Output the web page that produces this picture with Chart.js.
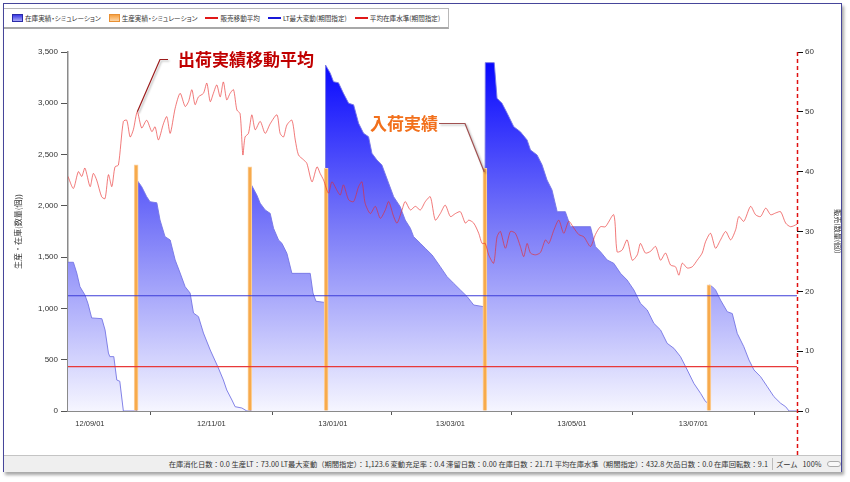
<!DOCTYPE html>
<html lang="ja">
<head>
<meta charset="utf-8">
<title>在庫シミュレーション</title>
<script src="https://cdn.jsdelivr.net/npm/chart.js@4.4.1/dist/chart.umd.min.js"></script>
<style>
  html, body { margin: 0; padding: 0; background: #fff; }
  body { width: 850px; height: 482px; position: relative; overflow: hidden;
         font-family: "Noto Sans CJK JP", "Liberation Sans", sans-serif; color: #333; }
  #frame { position: absolute; left: 3px; top: 3px; width: 837px; height: 467px;
           border: 1px solid #46469a; box-shadow: 2px 3px 3px rgba(0,0,0,0.35); background: #fff; z-index: 0; }
  #wrap { position: absolute; left: 0; top: 0; width: 850px; height: 455px; z-index: 1; }
  #legend { position: absolute; left: 4px; top: 8px; width: 436px; height: 18px; z-index: 2;
            border: 1px solid #b8b8b8; border-bottom: 2px solid #a8a8a8; border-left: none; background: #fff;
            display: flex; align-items: center; padding-left: 8px; box-sizing: content-box;
            font-size: 6.6px; font-feature-settings: "palt"; white-space: nowrap; }
  #legend .item { display: flex; align-items: center; margin-right: 8px; }
  #legend .sw { display: inline-block; margin-right: 2px; }
  #legend .box { width: 9px; height: 6px; }
  #legend .ln { width: 13px; height: 2px; }
  .note { position: absolute; z-index: 2; font-weight: bold; font-size: 17px; line-height: 17px;
          white-space: nowrap; font-family: "Noto Sans CJK JP", sans-serif; }
  #noteSales { left: 178px; top: 50px; color: #c00000; }
  #noteIn { left: 370px; top: 114px; color: #f2701c; }
  #status { position: absolute; left: 4px; top: 455px; width: 837px; height: 16px; z-index: 2;
            background: #efefef; border-top: 1px solid #c4c4c4;
            font-size: 7.3px; line-height: 16px; white-space: nowrap; }
  #status .stat { position: absolute; right: 73px; top: 0; }
  #status .sep { position: absolute; left: 768px; top: 2px; width: 1px; height: 12px; background: #bbb; }
  #status .zoom { position: absolute; left: 772px; top: 0; }
  #status .slider { position: absolute; left: 823px; top: 5px; width: 12px; height: 4px;
                    border: 1px solid #aaa; border-radius: 3px; background: #f8f8f8; }
</style>
</head>
<body>
<div id="frame"></div>
<div id="wrap"><canvas id="stockChart" width="850" height="455"></canvas></div>
<div id="legend"></div>
<div class="note" id="noteSales">出荷実績移動平均</div>
<div class="note" id="noteIn">入荷実績</div>
<div id="status"><span class="stat" id="statText"></span><span class="sep"></span><span class="zoom">ズーム&nbsp;&nbsp;&nbsp;100%</span><span class="slider"></span></div>
<script>
// --- data (x = days since 12/08/21) ---
const seriesLabels = ['在庫実績・シミュレーション', '生産実績・シミュレーション', '販売移動平均', 'LT最大変動(期間指定)', '平均在庫水準(期間指定)'];

const tickDays = [11, 72, 133, 192, 253, 314];
const tickLabels = ['12/09/01', '12/11/01', '13/01/01', '13/03/01', '13/05/01', '13/07/01'];

// inventory (left axis)
const invDays = [0, 2.7, 4.4, 6, 8.5, 10, 11.9, 17, 18.6, 20.3, 21, 23, 24.5, 26, 27.8, 34.5,
  34.7, 37, 39.5, 41.2, 44.6, 46.2, 48.7, 51.3, 53.8, 56.3, 58.8, 61.3, 63, 65.5, 68, 71.4, 75.5, 78, 79.7, 82.3, 83.9, 87.3, 89.8, 91.8,
  92.2, 94.8, 96.5, 99, 101.5, 103.2, 105.7, 107.4, 109.9, 112.4, 121.6, 123, 124.5, 128.3, 129.1,
  129.3, 131.7, 133.3, 135.8, 138.3, 140.9, 143.4, 145.9, 148.4, 150.9, 152.6, 155.1, 157.6, 161, 163.5, 166.8, 169.3, 171.9, 173.5, 176.9, 179.4, 182.8, 186.9, 190.3, 193.6, 197, 200.4, 203.7, 208.7, 209.3,
  209.5, 214, 215.4, 217.9, 220.5, 223.8, 227.1, 230.5, 232.2, 235.5, 238, 240.5, 243, 245.6, 249.7, 252.3, 262.3, 264.8, 267.3, 270.7, 274, 277.4, 280.7, 284.1, 287.4, 290.8, 294.1, 297.5, 300.8, 304.2, 307.5, 310.9, 314.2, 317.6, 320.1, 321.6,
  321.9, 323.5, 325.1, 327.6, 331, 333.5, 336, 339.3, 341.9, 344.4, 347.7, 351.1, 354.4, 357.8, 360.3, 362, 366];
const invValues = [1450, 1450, 1345, 1212, 1131, 1050, 907, 900, 790, 565, 530, 530, 302, 290, 0, 0,
  2250, 2187, 2090, 2040, 2030, 1862, 1700, 1667, 1472, 1345, 1212, 1150, 955, 920, 760, 595, 419, 302, 205, 107, 42, 29, 0, 0,
  2200, 2106, 2025, 1960, 1927, 1781, 1667, 1635, 1537, 1342, 1342, 1150, 1070, 1060, 1060,
  3373, 3292, 3210, 3200, 3097, 3000, 2985, 2805, 2707, 2674, 2512, 2447, 2398, 2220, 2089, 1992, 1862, 1781, 1700, 1635, 1586, 1521, 1407, 1310, 1245, 1180, 1115, 1033, 1017, 1017,
  3396, 3396, 3049, 3000, 2902, 2772, 2723, 2642, 2545, 2496, 2400, 2252, 2155, 1943, 1943, 1797, 1797, 1602, 1553, 1472, 1440, 1342, 1277, 1180, 1050, 985, 855, 790, 660, 611, 530, 400, 270, 172, 91, 75,
  1228, 1212, 1180, 1082, 968, 950, 757, 627, 497, 400, 335, 237, 140, 75, 42, 0, 0];

// production receipts (left axis)
const prodDays = [34.2, 91.3, 129.6, 209.3, 321.8];
const prodValues = [2400, 2380, 2365, 2365, 1230];

// sales moving average (right axis)
const salesDays = [0, 2.7, 5.2, 6.9, 8.5, 11.1, 12.7, 14.4, 16.9, 18.6, 20.3, 22, 23.6, 25.3, 27.8, 29.5, 31.2, 32.8, 34.8, 37,
  39.5, 42.1, 43.7, 45.4, 47.9, 49.6, 51.3, 53.8, 56.3, 58.8, 60.5, 62.2, 63.8, 65.5, 68, 69.7, 71.4, 73, 74.7, 76.4,
  78, 79.7, 81.4, 83.1, 84.8, 86.4, 87.8, 88.9, 90.6, 92.3, 94, 96.5, 99, 101.5, 104.9, 106.5, 108.2, 109.9, 112.4, 114.1,
  115.7, 118.2, 119.9, 122.5, 125, 126.6, 128.3, 130.8, 132.5, 135, 136.7, 138.3, 140.9, 143.4, 145.9, 147.6, 149.2, 151.8, 154.3, 156.8,
  159.3, 161, 163.5, 165.2, 167.7, 169.3, 171.9, 174.4, 176.9, 179.4, 181.9, 184.4, 186.9, 189.4, 192, 194.5, 197, 199.5, 201.2, 203.7,
  206.2, 207.9, 209.5, 211.2, 213.7, 215.4, 217.1, 219.6, 222.1, 224.6, 227.1, 228.8, 230.5, 232.2, 234.7, 237.2, 239.7, 241.4, 243.9, 246.4,
  248.9, 251.4, 253.9, 256.4, 259, 262.3, 264.8, 267.3, 269.8, 274, 275.7, 278.2, 280.7, 283.3, 285.8, 287.4, 289.9, 292.5, 295, 297.5,
  300, 302.5, 305, 306.7, 308.4, 310.9, 313.4, 315.9, 318.4, 320.1, 322.6, 325.1, 327.6, 330.2, 332.7, 335.2, 336.8, 339.3, 342.7, 345.2,
  347.7, 350.3, 352.8, 355.3, 357.8, 360.3, 362.8, 366];
const salesValues = [39.2, 37.2, 40.0, 39.2, 40.6, 37.5, 39.7, 38.6, 35.8, 35.5, 39.5, 37.5, 40.8, 41.1, 48.4, 48.6, 45.8, 47.0, 50.0, 47.3,
  48.6, 46.7, 47.5, 45.3, 48.0, 49.2, 46.4, 50.6, 53.1, 50.9, 51.7, 53.7, 51.2, 52.5, 53.1, 54.8, 51.7, 53.1, 54.5, 52.5,
  55.0, 52.0, 53.1, 53.7, 50.3, 49.7, 42.8, 45.8, 46.4, 49.5, 47.0, 48.4, 46.4, 48.0, 49.5, 46.4, 45.8, 47.8, 48.6, 45.3,
  42.8, 42.0, 41.4, 38.3, 40.8, 39.7, 38.6, 36.4, 38.3, 36.9, 36.1, 37.8, 35.3, 35.0, 37.5, 38.3, 34.7, 33.0, 34.2, 32.2,
  33.6, 35.0, 32.5, 31.4, 33.6, 35.0, 33.6, 34.2, 33.6, 35.0, 35.8, 31.9, 33.0, 34.4, 32.5, 33.0, 33.3, 31.4, 31.9, 31.4,
  29.7, 28.0, 28.0, 26.1, 24.7, 29.1, 30.0, 27.2, 30.0, 29.7, 27.5, 25.8, 28.0, 26.4, 26.1, 26.5, 28.6, 28.0, 30.2, 31.9,
  29.7, 31.7, 30.6, 29.5, 29.1, 27.5, 29.5, 30.8, 30.8, 32.8, 26.6, 26.9, 28.6, 25.2, 26.1, 28.0, 26.4, 26.7, 27.5, 25.2,
  26.4, 24.4, 24.1, 22.7, 24.7, 23.9, 24.1, 25.2, 26.4, 28.3, 29.7, 27.2, 28.6, 30.0, 28.6, 30.3, 32.5, 31.7, 34.2, 32.8,
  32.5, 33.9, 32.8, 33.1, 33.3, 31.4, 30.8, 31.2];

// period levels (left axis)
const ltMaxVariation = 1123.6;
const avgStockLevel = 432.8;
const dayRange = [0, 366];

// annotation anchors [day, value]
const salesNoteAt = [34.8, 50.0];
const receiptNoteAt = [209.0, 2330];

// status bar
const statNames = ['在庫消化日数', '生産LT', 'LT最大変動（期間指定）', '変動充足率', '滞留日数', '在庫日数', '平均在庫水準（期間指定）', '欠品日数', '在庫回転数'];
const statValues = ['0.0', '73.00', '1,123.6', '0.4', '0.00', '21.71', '432.8', '0.0', '9.1'];

// --- build ---
function toPoints(xs, ys) {
  return xs.map((x, i) => ({ x: x, y: ys[i] }));
}

function stockGradient(context) {
  const area = context.chart.chartArea;
  if (!area) return 'rgba(90,90,240,0.6)';
  const g = context.chart.ctx.createLinearGradient(0, area.top, 0, area.bottom);
  g.addColorStop(0, 'rgb(0,0,255)');
  g.addColorStop(0.5, 'rgb(125,125,248)');
  g.addColorStop(1, 'rgb(246,246,255)');
  return g;
}

// red dashed right axis line, extends down to the status bar
const rightAxisLine = {
  id: 'rightAxisLine',
  afterDraw(chart) {
    const { ctx, chartArea } = chart;
    ctx.save();
    ctx.strokeStyle = '#e01010';
    ctx.lineWidth = 1.5;
    ctx.setLineDash([4, 3]);
    ctx.beginPath();
    ctx.moveTo(chartArea.right + 0.5, chartArea.top);
    ctx.lineTo(chartArea.right + 0.5, chart.height);
    ctx.stroke();
    ctx.restore();
  }
};

// leader lines from the callout texts
const leaderLines = {
  id: 'leaderLines',
  afterDatasetsDraw(chart) {
    const { ctx, scales } = chart;
    ctx.save();
    ctx.shadowColor = 'rgba(0,0,0,0.3)';
    ctx.shadowOffsetX = 1.5;
    ctx.shadowOffsetY = 1.5;
    ctx.shadowBlur = 2;
    ctx.lineWidth = 1.2;

    ctx.strokeStyle = '#9c1c1c';
    ctx.beginPath();
    ctx.moveTo(168, 59.5);
    ctx.lineTo(160, 59.5);
    ctx.lineTo(scales.x.getPixelForValue(salesNoteAt[0]), scales.y1.getPixelForValue(salesNoteAt[1]));
    ctx.stroke();

    ctx.strokeStyle = '#a05050';
    ctx.beginPath();
    ctx.moveTo(439, 123.5);
    ctx.lineTo(465, 123.5);
    ctx.lineTo(scales.x.getPixelForValue(receiptNoteAt[0]), scales.y.getPixelForValue(receiptNoteAt[1]));
    ctx.stroke();
    ctx.restore();
  }
};

const tickFont = { family: "'Liberation Sans', Arial, sans-serif", size: 8 };

const ctx = document.getElementById('stockChart').getContext('2d');
const stockChart = new Chart(ctx, {
  type: 'line',
  data: {
    datasets: [
      {
        label: seriesLabels[3],
        data: toPoints(dayRange, [ltMaxVariation, ltMaxVariation]),
        borderColor: '#3c3cd8',
        borderWidth: 1.2,
        pointRadius: 0,
        yAxisID: 'y',
        order: 0
      },
      {
        label: seriesLabels[4],
        data: toPoints(dayRange, [avgStockLevel, avgStockLevel]),
        borderColor: '#e83a3a',
        borderWidth: 1.2,
        pointRadius: 0,
        yAxisID: 'y',
        order: 1
      },
      {
        label: seriesLabels[2],
        data: toPoints(salesDays, salesValues),
        borderColor: 'rgba(232,40,40,0.62)',
        borderWidth: 1,
        pointRadius: 0,
        tension: 0.25,
        yAxisID: 'y1',
        order: 2
      },
      {
        type: 'bar',
        label: seriesLabels[1],
        data: toPoints(prodDays, prodValues),
        backgroundColor: '#f7aa4c',
        borderColor: '#fcd3a2',
        borderWidth: 1,
        barThickness: 4,
        grouped: false,
        yAxisID: 'y',
        order: 3
      },
      {
        label: seriesLabels[0],
        data: toPoints(invDays, invValues),
        borderColor: 'rgba(118,118,228,0.9)',
        borderWidth: 1,
        backgroundColor: stockGradient,
        fill: 'origin',
        pointRadius: 0,
        tension: 0,
        yAxisID: 'y',
        order: 4
      }
    ]
  },
  options: {
    responsive: false,
    animation: false,
    layout: { padding: { top: 52, left: 0, right: 0, bottom: 0 } },
    plugins: {
      legend: { display: false },
      tooltip: { enabled: false }
    },
    scales: {
      x: {
        type: 'linear',
        min: dayRange[0],
        max: dayRange[1],
        offset: false,
        afterBuildTicks: (scale) => { scale.ticks = tickDays.map(v => ({ value: v })); },
        afterFit: (scale) => { scale.height = 44; },
        grid: { drawOnChartArea: false, tickLength: 4, color: '#555' },
        border: { color: '#8a8a8a', width: 1 },
        ticks: {
          font: { family: tickFont.family, size: 7.5 },
          color: '#333',
          padding: 4,
          maxRotation: 0,
          autoSkip: false,
          callback: (value, index) => tickLabels[index]
        }
      },
      y: {
        position: 'left',
        min: 0,
        max: 3500,
        afterFit: (scale) => { scale.width = 68; },
        grid: { drawOnChartArea: false, tickLength: 7, color: '#555' },
        border: { color: '#8a8a8a', width: 1.5 },
        ticks: { stepSize: 500, font: tickFont, color: '#333', padding: 3 },
        title: {
          display: true,
          text: '生産・在庫(数量(個))',
          font: { family: "'Noto Sans CJK JP', sans-serif", size: 8 },
          color: '#333',
          padding: { top: 13, bottom: 0 }
        }
      },
      y1: {
        position: 'right',
        min: 0,
        max: 60,
        afterFit: (scale) => { scale.width = 53; },
        grid: { drawOnChartArea: false, tickLength: 6, color: '#111' },
        border: { display: false },
        ticks: { stepSize: 10, font: tickFont, color: '#333', padding: 2 },
        title: {
          display: true,
          text: '販売(数量(個))',
          font: { family: "'Noto Sans CJK JP', sans-serif", size: 7 },
          color: '#333',
          padding: { top: 8, bottom: 0 }
        }
      }
    }
  },
  plugins: [rightAxisLine, leaderLines]
});

// legend in the top bar
const legendSwatches = [
  { cls: 'box', css: 'background: linear-gradient(#3a3ae6, #a8a8f6); border: 1px solid #2a2aa8;' },
  { cls: 'box', css: 'background: linear-gradient(#f6a040, #fcd6a8); border: 1px solid #e89034;' },
  { cls: 'ln', css: 'background: #e01818;' },
  { cls: 'ln', css: 'background: #1818d8;' },
  { cls: 'ln', css: 'background: #e01818;' }
];
const legendEl = document.getElementById('legend');
seriesLabels.forEach((label, i) => {
  const item = document.createElement('span');
  item.className = 'item';
  const sw = document.createElement('span');
  sw.className = 'sw ' + legendSwatches[i].cls;
  sw.style.cssText = legendSwatches[i].css;
  const txt = document.createElement('span');
  txt.textContent = label;
  item.appendChild(sw);
  item.appendChild(txt);
  legendEl.appendChild(item);
});

document.getElementById('statText').textContent =
  statNames.map((n, i) => n + '：' + statValues[i]).join(' ');
</script>
</body>
</html>
